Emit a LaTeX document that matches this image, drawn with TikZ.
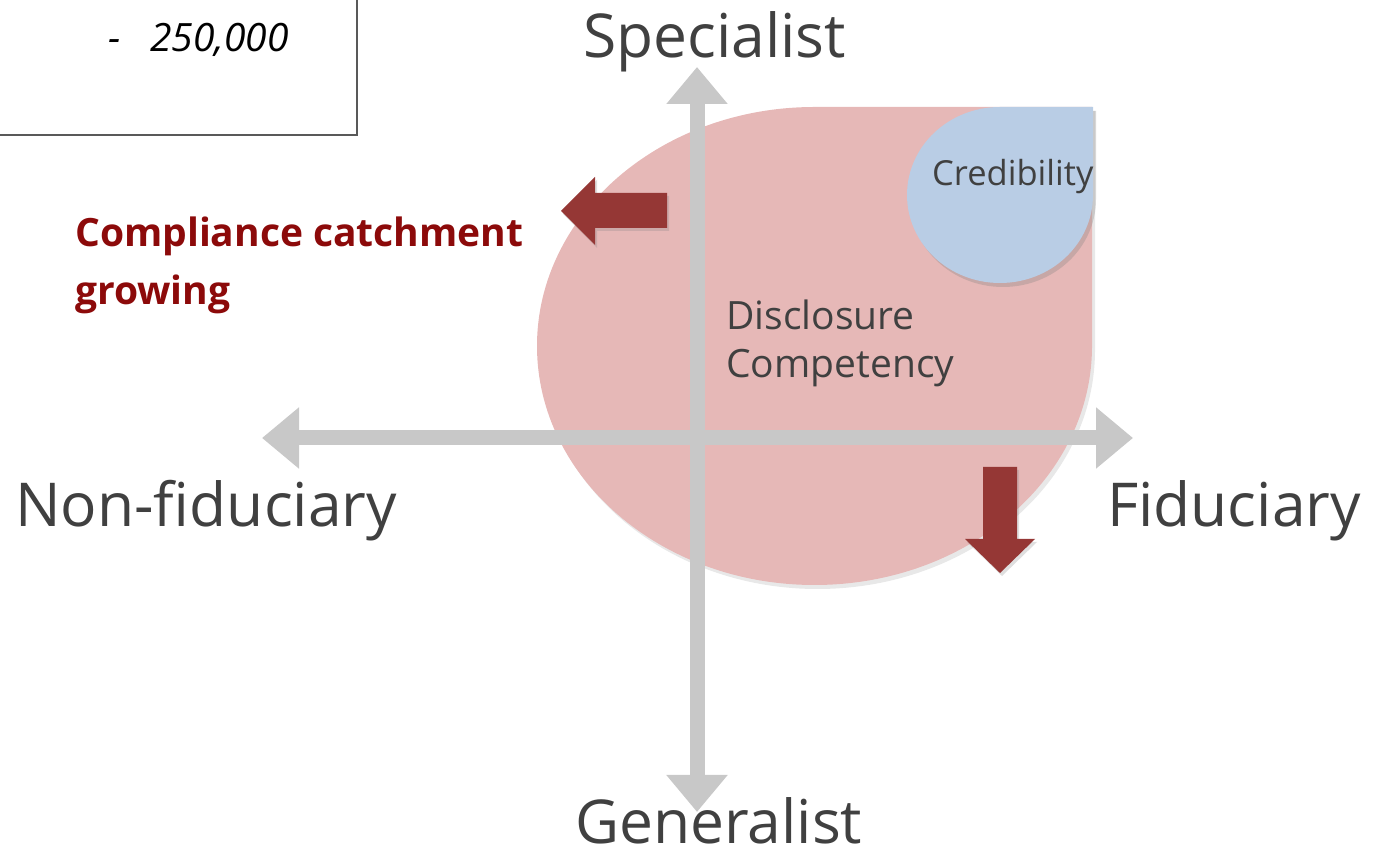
\documentclass[tikz,border=0pt]{standalone}
\usepackage{fontspec}
\setmainfont{Open Sans}
\usetikzlibrary{arrows.meta,shadows}
\definecolor{axisgray}{HTML}{C8C8C8}
\definecolor{zonepink}{HTML}{E6B8B7}
\definecolor{zoneblue}{HTML}{B9CDE5}
\definecolor{arrowred}{HTML}{953735}
\definecolor{labelgray}{HTML}{404040}
\definecolor{notered}{HTML}{8C0A0A}
\tikzset{
  axis/.style={draw=axisgray, line width=15pt, -{Triangle[length=37pt,width=59pt]}},
  axislabel/.style={text=labelgray, font=\fontsize{60.5}{68}\selectfont, inner sep=0pt, anchor=base west},
  zonelabel/.style={text=labelgray, inner sep=0pt, anchor=base west, align=left},
  softshadow/.style={drop shadow={opacity=0.25, shadow xshift=2pt, shadow yshift=-3pt}},
  trend/.style={fill=arrowred, softshadow},
}
\begin{document}
\begin{tikzpicture}[x=1pt,y=1pt]
\useasboundingbox (0,0) rectangle (1378,851);

% note box in the corner
\draw[black!65, line width=1.3pt] (-5,716) rectangle (357,860);
\node[inner sep=0pt, anchor=base west, font=\fontsize{39}{44}\selectfont\itshape] (dash) at (108,799) {-};
\node[inner sep=0pt, anchor=base west, font=\fontsize{39}{44}\selectfont\itshape] (amount) at (150,799) {250,000};

% disclosure competency zone
\fill[zonepink, drop shadow={opacity=0.18, shadow xshift=3pt, shadow yshift=-4pt}]
  (814.5,744) -- (1092,744) -- (1092,505)
  arc[start angle=0, end angle=-270, x radius=277.5pt, y radius=239pt] -- cycle;

% axes
\coordinate (axL) at (262,413);
\coordinate (axR) at (1133,413);
\coordinate (axT) at (697,784);
\coordinate (axB) at (697,39);
\coordinate (axC) at (697,413);
\draw[axis] (axC) -- (axT);
\draw[axis] (axC) -- (axB);
\draw[axis] (axC) -- (axL);
\draw[axis] (axC) -- (axR);

% credibility zone
\fill[zoneblue, drop shadow={opacity=0.3, shadow xshift=3pt, shadow yshift=-4pt}]
  (1000,744) -- (1093,744) -- (1093,656)
  arc[start angle=0, end angle=-270, x radius=93pt, y radius=88pt] -- cycle;

% trend arrows
\fill[trend] (561,640) -- (595,674) -- (595,658) -- (667,658) -- (667,623) -- (595,623) -- (595,606) -- cycle;
\fill[trend] (983,384) -- (1017,384) -- (1017,312) -- (1035,312) -- (1000,278) -- (965,312) -- (983,312) -- cycle;

% axis labels
\node[axislabel] (spec) at (583,793) {Specialist};
\node[axislabel] (gen) at (575,8) {Generalist};
\node[axislabel] (nonfid) at (15,324) {Non-fiduciary};
\node[axislabel] (fid) at (1107,324) {Fiduciary};

% zone labels
\node[zonelabel, font=\fontsize{34.5}{40}\selectfont] (cred) at (932,665) {Credibility};
\node[zonelabel, font=\fontsize{39}{48}\selectfont] (disc) at (726,473) {Disclosure\\Competency};

% side note
\node[inner sep=0pt, anchor=base west, align=left, text=notered,
      font=\fontsize{39}{58}\selectfont\bfseries] (note) at (75,546)
  {Compliance catchment\\growing};
\end{tikzpicture}
\end{document}
